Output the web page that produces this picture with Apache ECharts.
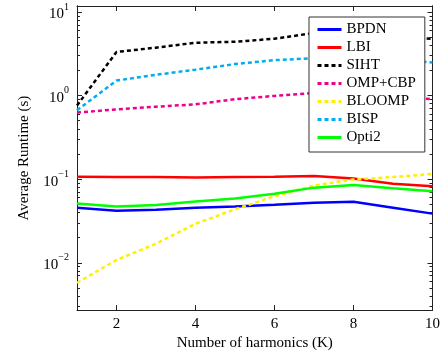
<!DOCTYPE html>
<html>
<head>
<meta charset="utf-8">
<script src="https://cdn.jsdelivr.net/npm/echarts@6/dist/echarts.min.js"></script>
<style>
  html, body { margin: 0; padding: 0; background: #fff; }
  #chart { width: 443px; height: 356px; }
</style>
</head>
<body>
<div id="chart"></div>
<script>
// harmonics K and runtimes (s)
const harmonics = [1, 2, 3, 4, 5, 6, 7, 8, 9, 10]
const bpdn = [0.0456, 0.042, 0.0432, 0.0456, 0.047, 0.0494, 0.0521, 0.0537, 0.0456, 0.0387]
const lbi = [0.107, 0.106, 0.106, 0.105, 0.106, 0.107, 0.109, 0.102, 0.088, 0.082]
const siht = [0.76, 3.32, 3.74, 4.28, 4.4, 4.78, 5.6, 5.7, 5.2, 4.75]
const ompCbp = [0.625, 0.684, 0.736, 0.784, 0.905, 0.99, 1.075, 1.1, 1.0, 0.9]
const bloomp = [0.00577, 0.0108, 0.0169, 0.0293, 0.0435, 0.0625, 0.084, 0.099, 0.106, 0.1155]
const bisp = [0.667, 1.51, 1.77, 2.04, 2.38, 2.65, 2.8, 2.9, 2.7, 2.48]
const opti2 = [0.0513, 0.047, 0.049, 0.0541, 0.0588, 0.0671, 0.0792, 0.085, 0.078, 0.0717]

const xTicks = [2, 4, 6, 8, 10]
const yDecades = [-2, -1, 0, 1]          // log10 of the labelled ticks
const yMin = -2.566, yMax = 1.071        // log10 of axis range

// minor log ticks at 2..9 x 10^k
const yMinor = []
for (let k = -3; k <= 1; k++) {
  for (let m = 2; m <= 9; m++) {
    const v = k + Math.log10(m)
    if (v > yMin && v < yMax) yMinor.push(v)
  }
}

const font = 'Liberation Serif'
const frame = '#222'

const toLog = arr => arr.map((v, i) => [harmonics[i], Math.log10(v)])

const series = [
  { name: 'BPDN', data: bpdn, color: '#0000ff', dash: 'solid' },
  { name: 'LBI', data: lbi, color: '#ff0000', dash: 'solid' },
  { name: 'SIHT', data: siht, color: '#000000', dash: [4, 3] },
  { name: 'OMP+CBP', data: ompCbp, color: '#ec008c', dash: [4, 3] },
  { name: 'BLOOMP', data: bloomp, color: '#fff000', dash: [4, 3] },
  { name: 'BISP', data: bisp, color: '#00aeef', dash: [4, 3] },
  { name: 'Opti2', data: opti2, color: '#00ff00', dash: 'solid' }
].map(s => ({
  name: s.name,
  type: 'line',
  data: toLog(s.data),
  symbol: 'none',
  color: s.color,
  lineStyle: { color: s.color, width: 2.5, type: s.dash },
  animation: false
}))

const yAxisBase = {
  type: 'value',
  min: yMin,
  max: yMax,
  splitLine: { show: false },
  axisLine: { show: true, onZero: false, lineStyle: { color: frame, width: 1 } }
}

const xAxisBase = {
  type: 'value',
  min: 1,
  max: 10,
  splitLine: { show: false },
  axisLine: { show: true, onZero: false, lineStyle: { color: frame, width: 1 } },
  axisTick: { inside: true, length: 5, customValues: xTicks, lineStyle: { color: frame } }
}

const chart = echarts.init(document.getElementById('chart'))
chart.setOption({
  animation: false,
  grid: { left: 77, right: 9.5, top: 6, bottom: 42 },
  legend: {
    orient: 'vertical',
    left: 309,
    top: 17,
    padding: [5, 9, 7, 7],
    itemWidth: 24,
    itemHeight: 10,
    itemGap: 3,
    itemTextGap: 5,
    backgroundColor: '#fff',
    borderColor: '#333',
    borderWidth: 1,
    borderRadius: 0,
    itemStyle: { opacity: 0 },
    lineStyle: { width: 3 },
    textStyle: { fontFamily: font, fontSize: 15, color: '#000' }
  },
  xAxis: [
    Object.assign({}, xAxisBase, {
      position: 'bottom',
      name: 'Number of harmonics (K)', nameLocation: 'middle', nameGap: 23,
      nameTextStyle: { fontFamily: font, fontSize: 15, color: '#000' },
      axisLabel: { customValues: xTicks, margin: 6, fontFamily: font, fontSize: 15, color: '#000' }
    }),
    Object.assign({}, xAxisBase, {
      position: 'top',
      axisLabel: { show: false }
    })
  ],
  yAxis: [
    Object.assign({}, yAxisBase, {
      position: 'left',
      name: 'Average Runtime (s)', nameLocation: 'middle', nameGap: 45,
      nameTextStyle: { fontFamily: font, fontSize: 15, color: '#000' },
      axisTick: { inside: true, length: 5, customValues: yDecades, lineStyle: { color: frame } },
      axisLabel: {
        customValues: yDecades,
        margin: 8,
        formatter: v => '{b|10}{s|' + (v < 0 ? '\u2212' + (-v) : v) + '}',
        rich: {
          b: { fontFamily: font, fontSize: 15, color: '#000', padding: [5, 0, 0, 0] },
          s: { fontFamily: font, fontSize: 10, color: '#000', verticalAlign: 'top', padding: [0, 0, 8, 0] }
        }
      }
    }),
    Object.assign({}, yAxisBase, {
      position: 'left',
      axisTick: { inside: true, length: 3, customValues: yMinor, lineStyle: { color: frame } },
      axisLabel: { show: false }
    }),
    Object.assign({}, yAxisBase, {
      position: 'right',
      axisTick: { inside: true, length: 5, customValues: yDecades, lineStyle: { color: frame } },
      axisLabel: { show: false }
    }),
    Object.assign({}, yAxisBase, {
      position: 'right',
      axisTick: { inside: true, length: 3, customValues: yMinor, lineStyle: { color: frame } },
      axisLabel: { show: false }
    })
  ],
  series: series
})
</script>
</body>
</html>
